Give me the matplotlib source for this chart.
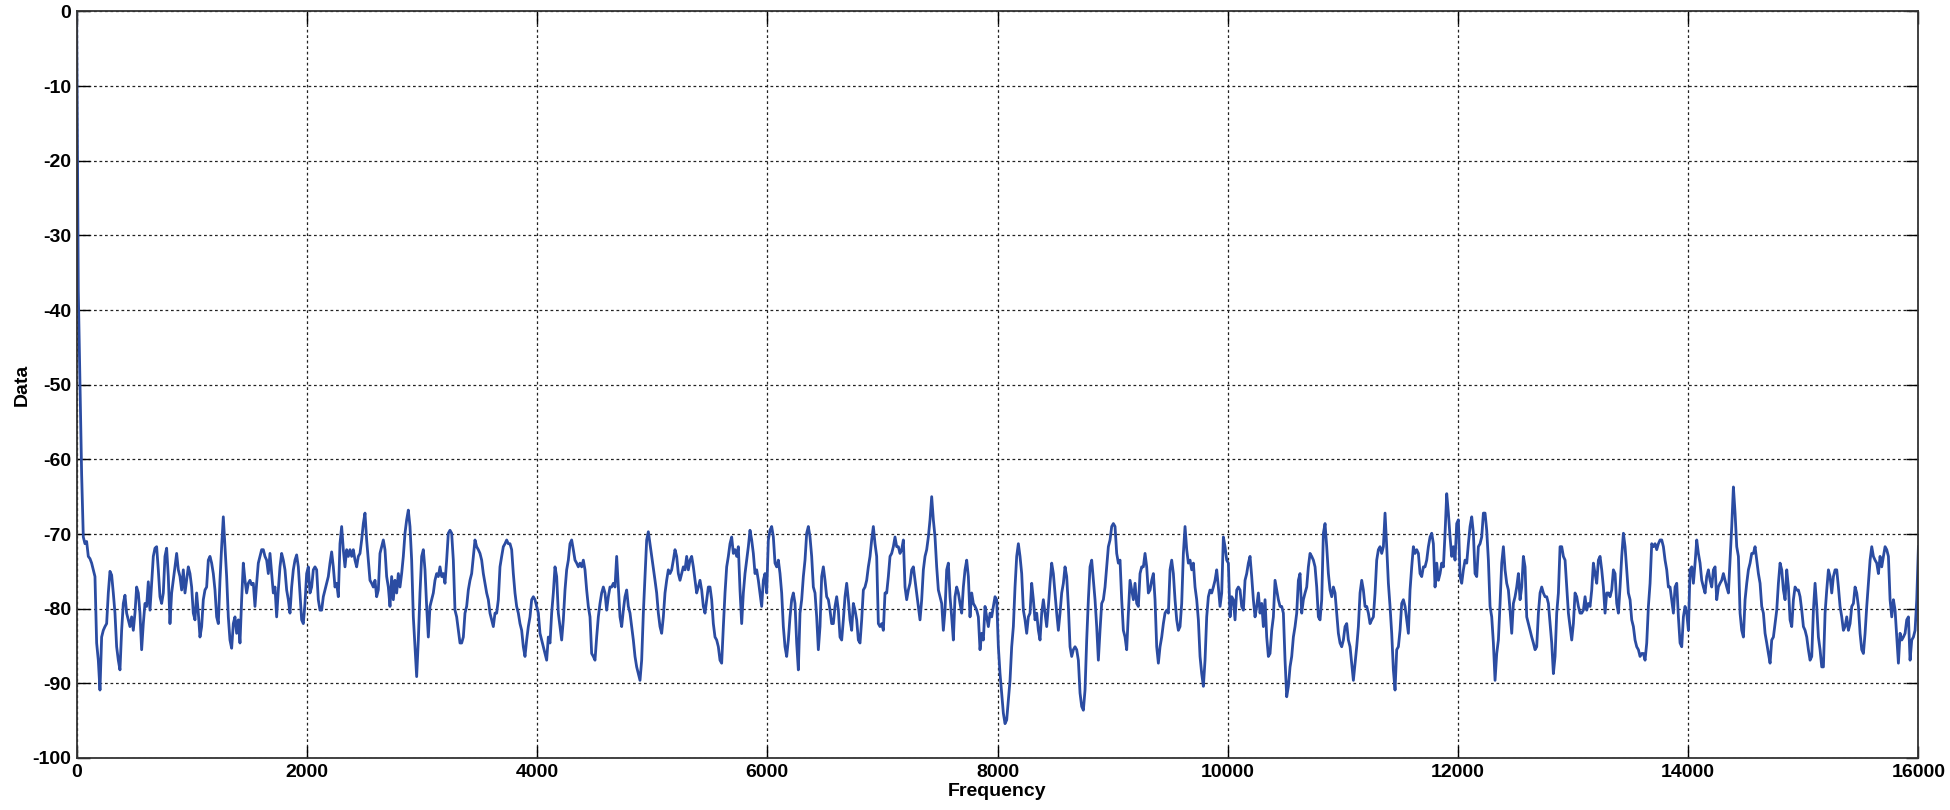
import numpy as np
import matplotlib
matplotlib.use("Agg")
import matplotlib.pyplot as plt

# Spectrum magnitude (dB), uniformly spaced over 0..16000 Hz
seg_0_2k = [0.0, -37.5, -50.0, -62.0,
    -70.4, -71.3, -71.0, -73.0, -73.3, -73.9, -74.8, -75.7, -84.6, -86.9, -90.9, -83.8, -82.9, -82.4, -82.0, -77.9,
    -75.0, -75.5, -77.9, -80.6, -85.1, -86.9, -88.2, -82.9, -79.3, -78.2, -80.6, -81.5, -82.4, -81.1, -82.9, -80.6,
    -77.1, -77.9, -80.6, -85.5, -82.0, -79.3, -79.7, -76.4, -80.2, -76.6, -73.0, -71.9, -71.7, -74.8, -78.4, -79.3,
    -77.9, -73.0, -71.9, -75.7, -82.0, -77.9, -76.2, -74.4, -72.6, -74.8, -75.7, -77.5, -74.8, -77.9, -76.2, -74.4,
    -75.3, -77.1, -80.6, -81.5, -77.9, -80.6, -83.8, -82.4, -78.8, -77.5, -77.1, -73.5, -73.0, -73.9, -75.3, -77.5,
    -81.1, -82.0, -76.2, -71.7, -67.7, -71.7, -75.7, -81.1, -84.2, -85.3, -82.0, -81.1, -83.3, -81.5, -84.6, -78.8,
    -73.9, -76.2, -77.9, -76.6, -76.2, -76.8, -76.6, -79.7, -76.6, -73.9, -73.0, -72.1, -72.1, -73.0, -73.5, -75.3,
    -72.6, -75.3, -77.9, -77.1, -81.1, -77.5, -74.4, -72.6, -73.5, -74.8, -77.5, -78.8, -80.6, -77.1, -74.8, -73.5,
    -72.8, -74.4, -77.9, -81.5, -82.0, -79.3, -75.3, -74.4]

seg_2k_4k = [
    -77.9, -77.1, -74.8, -74.4, -74.8, -78.8, -80.2, -80.2, -78.4, -77.5, -76.6, -75.7, -73.9, -72.4, -74.4, -77.1,
    -76.6, -78.4, -71.3, -69.0, -72.1, -74.4, -72.1, -73.0, -72.1, -73.0, -72.1, -73.5, -74.4, -73.0, -72.6, -70.8,
    -68.6, -67.2, -70.8, -73.5, -76.2, -76.6, -77.1, -76.2, -78.4, -77.5, -72.6, -71.7, -70.8, -72.1, -75.7, -77.1,
    -79.7, -75.7, -78.8, -76.2, -77.9, -75.3, -77.1, -75.3, -73.0, -69.9, -68.1, -66.8, -69.0, -73.5, -81.1, -85.1,
    -89.1, -84.2, -77.9, -73.0, -72.1, -74.8, -79.7, -83.8, -79.7, -78.8, -77.9, -76.2, -75.3, -75.7, -74.4, -75.7,
    -75.3, -76.6, -73.5, -69.9, -69.5, -69.9, -73.5, -80.2, -81.1, -82.9, -84.6, -84.6, -83.8, -80.6, -79.7, -77.5,
    -76.2, -75.3, -73.0, -70.8, -71.7, -72.1, -72.6, -73.5, -75.3, -76.6, -77.9, -78.8, -80.6, -81.5, -82.4, -80.6,
    -80.6, -78.8, -74.4, -73.0, -71.7, -71.3, -70.8, -71.3, -71.3, -72.1, -75.3, -77.9, -79.7, -80.6, -82.0, -82.9,
    -85.1, -86.4, -84.2, -82.4, -81.1, -78.8, -78.4, -78.8, -79.7, -80.6]

seg_4k_6k = [
    -83.3, -84.2, -85.1, -86.0, -86.9, -83.8, -84.6, -80.6, -77.9, -74.4, -75.7, -80.6, -82.4, -84.2, -81.5, -77.5,
    -74.8, -73.5, -71.3, -70.8, -72.1, -73.5, -73.9, -74.4, -73.9, -74.4, -73.5, -74.8, -77.5, -79.7, -81.1, -86.0,
    -86.4, -86.9, -83.8, -81.1, -79.3, -77.9, -77.1, -77.9, -80.2, -78.4, -77.1, -77.1, -76.6, -77.1, -73.0, -77.1,
    -81.1, -82.4, -80.2, -78.4, -77.5, -79.7, -80.6, -82.4, -84.2, -86.4, -87.8, -88.7, -89.6, -86.9, -80.6, -75.7,
    -70.8, -69.7, -71.3, -73.0, -74.4, -76.2, -77.9, -80.6, -82.4, -83.3, -81.1, -77.9, -76.2, -74.8, -75.3, -74.8,
    -73.5, -72.1, -73.0, -75.3, -76.2, -75.3, -74.4, -74.8, -73.0, -74.8, -73.5, -73.0, -74.4, -76.2, -77.9, -77.1,
    -76.2, -77.5, -79.7, -80.6, -78.8, -77.1, -77.1, -78.8, -82.0, -83.8, -84.2, -85.1, -86.9, -87.3, -82.4, -77.9,
    -74.4, -73.0, -71.3, -70.4, -72.6, -72.1, -73.0, -71.7, -77.5, -82.0, -77.9, -75.3, -73.5, -71.7, -69.5, -70.8,
    -72.6, -75.3, -74.8, -76.2, -77.9, -79.7, -76.2, -75.3, -77.9, -70.8]

seg_6k_8k = [
    -69.5, -69.0, -70.4, -73.9, -74.4, -73.5, -75.3, -77.9, -82.4, -85.1, -86.4, -84.2, -81.1, -78.8, -77.9, -79.3,
    -84.6, -88.2, -80.6, -78.8, -75.7, -73.5, -69.9, -69.0, -70.4, -73.0, -77.1, -77.9, -81.1, -85.5, -82.4, -75.7,
    -74.4, -76.2, -78.4, -78.8, -80.2, -82.0, -82.0, -79.7, -78.4, -80.2, -83.8, -84.2, -81.5, -78.4, -76.6, -78.8,
    -81.5, -82.9, -79.3, -80.2, -81.5, -84.2, -84.6, -81.5, -77.5, -77.1, -76.2, -74.4, -73.0, -70.8, -69.0, -71.3,
    -73.0, -82.0, -82.4, -82.0, -82.9, -77.9, -77.9, -75.7, -73.0, -72.6, -71.7, -70.4, -71.7, -71.7, -72.6, -72.1,
    -70.8, -77.1, -78.8, -77.5, -76.6, -74.8, -74.4, -76.2, -77.9, -79.7, -81.5, -78.8, -74.8, -73.0, -72.1, -70.4,
    -68.1, -65.0, -68.1, -70.4, -74.4, -77.5, -78.4, -79.3, -82.9, -80.2, -74.8, -73.9, -78.4, -81.1, -84.2, -78.4,
    -77.1, -77.9, -79.3, -80.6, -77.1, -74.8, -73.5, -75.7, -81.1, -77.9, -79.3, -79.7, -80.2, -81.1, -85.5, -83.3,
    -84.2, -79.7, -81.1, -82.4, -80.6, -81.1, -79.7, -78.4, -78.8, -85.1]

seg_8k_10k = [
    -88.7, -91.3, -94.0, -95.4, -94.9, -92.2, -89.6, -85.1, -82.4, -77.1, -73.0, -71.3, -73.0, -75.3, -80.2, -81.5,
    -83.3, -81.1, -80.6, -76.6, -78.8, -81.5, -80.6, -82.9, -84.2, -80.6, -78.8, -80.6, -82.4, -79.7, -76.6, -73.9,
    -75.3, -77.9, -80.6, -82.9, -80.6, -77.9, -76.6, -74.4, -75.7, -79.7, -85.1, -86.4, -85.5, -85.1, -85.5, -86.9,
    -91.3, -93.1, -93.6, -90.9, -84.2, -78.8, -74.4, -73.5, -76.2, -78.8, -82.4, -86.9, -82.9, -79.3, -78.8, -77.1,
    -74.4, -71.7, -70.8, -69.0, -68.6, -69.0, -72.6, -73.9, -73.5, -78.8, -82.9, -83.8, -85.5, -80.6, -76.2, -77.5,
    -78.8, -76.6, -79.3, -79.7, -75.3, -74.4, -74.4, -72.6, -74.4, -77.9, -77.5, -76.2, -75.3, -78.8, -85.1, -87.3,
    -85.1, -83.8, -82.0, -80.6, -80.2, -80.6, -74.8, -73.5, -75.3, -78.8, -81.5, -82.9, -82.4, -79.3, -72.6, -69.0,
    -72.1, -73.9, -73.5, -74.8, -73.9, -77.1, -78.8, -81.5, -86.4, -88.7, -90.4, -86.9, -81.1, -78.4, -77.5, -77.9,
    -77.1, -76.2, -74.8, -77.1, -79.7, -77.9, -70.4, -71.7, -73.5, -73.9]

seg_10k_12k = [
    -81.1, -78.4, -78.8, -81.5, -77.5, -77.1, -77.5, -79.7, -80.2, -76.2, -75.3, -73.9, -73.0, -75.7, -78.8, -81.1,
    -79.7, -77.9, -80.6, -79.3, -82.4, -78.8, -83.8, -86.4, -86.0, -82.9, -81.1, -76.2, -77.5, -78.8, -79.7, -79.7,
    -80.6, -86.9, -91.8, -90.4, -87.8, -86.4, -83.8, -82.4, -80.6, -76.2, -75.3, -80.6, -78.8, -77.9, -77.1, -74.4,
    -72.6, -73.0, -73.5, -74.4, -77.1, -81.1, -81.5, -78.8, -69.9, -68.6, -71.7, -75.3, -77.5, -78.4, -77.1, -77.9,
    -80.6, -83.3, -84.6, -85.1, -84.2, -82.4, -82.0, -84.2, -85.1, -87.3, -89.6, -87.3, -85.1, -82.4, -77.9, -76.2,
    -77.5, -79.7, -79.7, -80.6, -82.0, -81.5, -81.1, -77.9, -73.5, -72.1, -71.7, -72.6, -71.7, -67.2, -71.7, -76.6,
    -79.7, -83.3, -88.2, -90.9, -85.5, -85.1, -82.9, -79.3, -78.8, -79.7, -81.5, -83.3, -77.5, -74.4, -71.7, -72.6,
    -72.1, -72.6, -75.3, -75.7, -74.4, -74.4, -73.5, -71.7, -70.4, -69.9, -71.3, -77.1, -73.9, -76.2, -75.3, -73.9,
    -74.4, -69.9, -64.6, -67.2, -70.4, -73.0, -71.7, -73.5, -68.6, -68.1]

seg_12k_14k = [
    -75.7, -76.6, -74.8, -73.5, -73.9, -71.3, -69.0, -67.7, -69.9, -75.3, -75.7, -71.7, -71.3, -70.4, -67.2, -67.2,
    -69.5, -73.5, -79.7, -81.1, -84.6, -89.6, -86.0, -84.2, -79.3, -73.9, -71.7, -74.8, -76.6, -77.5, -80.2, -83.3,
    -79.3, -78.4, -77.1, -75.3, -78.8, -77.1, -73.0, -74.4, -81.1, -82.0, -82.9, -83.8, -84.6, -85.5, -85.1, -80.6,
    -77.9, -77.1, -77.9, -78.4, -78.4, -79.3, -82.0, -84.6, -88.7, -86.4, -80.6, -77.9, -71.7, -71.7, -73.0, -73.5,
    -77.1, -80.6, -82.4, -84.2, -82.0, -77.9, -78.4, -79.7, -80.6, -80.6, -80.2, -78.4, -80.2, -79.3, -79.7, -77.5,
    -73.9, -75.3, -76.6, -73.5, -73.0, -74.8, -77.1, -80.6, -77.9, -77.9, -78.4, -77.5, -74.8, -75.3, -79.3, -80.6,
    -77.1, -73.0, -69.9, -71.7, -74.8, -77.9, -78.8, -81.5, -82.4, -84.2, -85.1, -85.5, -86.4, -86.0, -86.0, -86.9,
    -84.6, -79.7, -76.6, -71.3, -71.7, -71.3, -72.1, -71.3, -70.8, -70.8, -71.7, -73.5, -74.8, -77.1, -77.1, -78.8,
    -80.6, -77.1, -76.6, -81.1, -84.6, -85.1, -81.1, -79.7, -80.6, -82.9]

seg_14k_16k = [
    -74.8, -74.4, -76.6, -73.9, -70.8, -72.6, -73.9, -76.2, -77.1, -77.9, -75.7, -74.8, -76.2, -77.1, -74.8, -74.4,
    -78.8, -77.1, -76.6, -76.2, -75.3, -76.2, -77.1, -77.9, -73.5, -69.0, -63.7, -67.2, -71.7, -73.0, -80.6, -82.9,
    -83.8, -78.8, -76.6, -74.8, -73.9, -72.6, -72.6, -71.7, -73.5, -75.3, -76.6, -79.7, -80.6, -83.3, -84.6, -86.0,
    -87.3, -84.2, -83.8, -82.0, -80.2, -76.6, -73.9, -74.8, -77.5, -78.8, -74.8, -77.1, -81.5, -82.4, -78.8, -77.1,
    -77.5, -77.5, -78.4, -80.2, -82.4, -82.9, -83.8, -85.5, -86.9, -86.4, -80.2, -76.6, -79.7, -83.8, -85.5, -87.8,
    -87.8, -80.6, -77.5, -74.8, -75.7, -77.9, -75.7, -74.8, -74.8, -77.1, -79.7, -81.1, -82.9, -82.4, -81.1, -82.9,
    -82.0, -79.7, -79.3, -77.1, -77.9, -79.7, -83.3, -85.5, -86.0, -83.3, -79.7, -76.6, -73.5, -71.7, -73.0, -73.5,
    -73.9, -75.3, -73.0, -74.4, -73.0, -71.7, -72.1, -73.0, -78.8, -81.1, -78.8, -80.2, -83.8, -87.3, -83.3, -84.2,
    -83.8, -83.3, -81.5, -81.1, -86.9, -84.2, -83.8, -82.9, -78.8, -71.7]

x_ticks = [0, 2000, 4000, 6000, 8000, 10000, 12000, 14000, 16000]
y_ticks = [-100, -90, -80, -70, -60, -50, -40, -30, -20, -10, 0]
x_label = "Frequency"
y_label = "Data"

data_db = np.array(seg_0_2k + seg_2k_4k + seg_4k_6k + seg_6k_8k +
                   seg_8k_10k + seg_10k_12k + seg_12k_14k + seg_14k_16k)
freq = np.linspace(0, 16000, len(data_db))

plt.rcParams['font.family'] = ['Liberation Sans', 'DejaVu Sans']
plt.rcParams['font.weight'] = 'bold'

fig = plt.figure(figsize=(19.5, 8.1), dpi=100)
ax = fig.add_axes([0.0393, 0.0642, 0.9445, 0.9218])

ax.plot(freq, data_db, color='#2B4CA2', linewidth=2.0)

ax.set_xlim(0, 16000)
ax.set_ylim(-100, 0)
ax.set_xticks(x_ticks)
ax.set_yticks(y_ticks)
ax.set_xticklabels([str(t) for t in x_ticks], fontsize=14, fontweight='bold')
ax.set_yticklabels([str(t) for t in y_ticks], fontsize=14, fontweight='bold')
ax.set_xlabel(x_label, fontsize=14, fontweight='bold', labelpad=2)
ax.set_ylabel(y_label, fontsize=14, fontweight='bold', labelpad=1)

ax.grid(True, color='#222222', linestyle=(0, (2.2, 2.2)), linewidth=0.9)
ax.tick_params(direction='in', length=9, width=1, top=True, right=True, pad=4)
for sp in ax.spines.values():
    sp.set_color('#333333')
    sp.set_linewidth(1.3)

fig.savefig('out.png', dpi=100, facecolor='white')
